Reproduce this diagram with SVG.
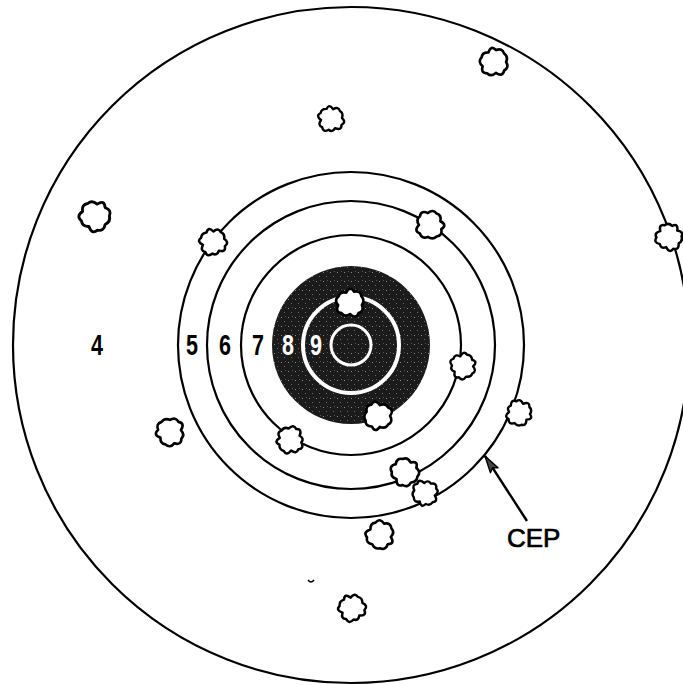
<svg xmlns="http://www.w3.org/2000/svg" width="683" height="685" viewBox="0 0 683 685">
<style>
.ring{fill:none;stroke:#000;stroke-width:2.2}
.hole{fill:#fff;stroke:#000;stroke-width:2.4;stroke-linejoin:round}
.num{font-family:"Liberation Sans Narrow","Liberation Sans",Arial,sans-serif;font-weight:bold;font-size:30px;text-anchor:middle}
.lbl{font-family:"Liberation Sans",Arial,sans-serif;font-size:26px;stroke:#000;stroke-width:0.7}
</style>
<defs>
<path id="blobA" d="M11,0 Q14.1,5.1 9.2,7.7 Q8,13.9 1.7,9.9 Q-2.4,13.8 -6,10.4 Q-12.3,10.3 -10.3,3.8 Q-15,0 -11.3,-4.1 Q-10.7,-9 -5,-8.7 Q-2.8,-15.8 1.9,-10.8 Q7.5,-13 9.2,-7.7 Q13.2,-4.8 11,0 Z"/>
<path id="blobB" d="M12,0 Q15.2,4.9 8.1,5.9 Q8.2,11.3 3.4,10.5 Q0,16 -3.7,11.4 Q-8.8,12.1 -8.1,5.9 Q-15.2,4.9 -12,0 Q-13.3,-4.3 -8.9,-6.5 Q-9.4,-12.9 -3.1,-9.5 Q0,-15 3.7,-11.4 Q8.2,-11.3 8.9,-6.5 Q15.2,-4.9 12,0 Z"/>
<pattern id="speck" width="7" height="9" patternUnits="userSpaceOnUse">
<rect width="7" height="9" fill="#1b1b1b"/>
<rect x="1" y="2" width="1" height="1" fill="#8a8a8a"/>
<rect x="4" y="6" width="1" height="1" fill="#6a6a6a"/>
<rect x="5" y="1" width="1" height="1" fill="#555"/>
</pattern>
<marker id="arr" markerWidth="20" markerHeight="12" refX="18" refY="6" orient="auto" markerUnits="userSpaceOnUse">
<path d="M1,1.5 L18,6 L1,10.5 L4,6 Z" fill="#444" stroke="#000" stroke-width="1.4" stroke-linejoin="round"/>
</marker>
</defs>
<rect width="683" height="685" fill="#fff"/>
<g id="target">
<circle class="ring" cx="351" cy="345" r="338"/>
<circle class="ring" cx="351" cy="345" r="173"/>
<circle class="ring" cx="351" cy="345" r="144"/>
<circle class="ring" cx="351" cy="345" r="110"/>
<circle cx="351" cy="345" r="79" fill="url(#speck)"/>
<circle cx="351" cy="345" r="48" fill="none" stroke="#fff" stroke-width="4"/>
<circle cx="351" cy="345" r="20" fill="none" stroke="#fff" stroke-width="3"/>
</g>
<g id="scores">
<text class="num" x="97" y="355" textLength="12" lengthAdjust="spacingAndGlyphs">4</text>
<text class="num" x="192" y="355" textLength="12" lengthAdjust="spacingAndGlyphs">5</text>
<text class="num" x="225" y="355" textLength="12" lengthAdjust="spacingAndGlyphs">6</text>
<text class="num" x="258" y="355" textLength="12" lengthAdjust="spacingAndGlyphs">7</text>
<text class="num" x="288" y="355" textLength="12" lengthAdjust="spacingAndGlyphs" fill="#fff">8</text>
<text class="num" x="316" y="355" textLength="12" lengthAdjust="spacingAndGlyphs" fill="#fff">9</text>
</g>
<g id="holes">
<use href="#blobA" class="hole" transform="translate(494,62) scale(1.1)"/>
<use href="#blobB" class="hole" transform="translate(331,119) rotate(30)"/>
<use href="#blobA" class="hole" transform="translate(95,216) rotate(40) scale(1.2)"/>
<use href="#blobB" class="hole" transform="translate(213,242) rotate(20) scale(1.05)"/>
<use href="#blobA" class="hole" transform="translate(430,225) rotate(100) scale(1.1)"/>
<use href="#blobB" class="hole" transform="translate(669,237) rotate(70) scale(1.05)"/>
<use href="#blobA" class="hole" transform="translate(350,303) rotate(10) scale(1.1)"/>
<use href="#blobB" class="hole" transform="translate(463,366) rotate(110)"/>
<use href="#blobA" class="hole" transform="translate(378,416) rotate(200) scale(1.1)"/>
<use href="#blobB" class="hole" transform="translate(519,413) rotate(150)"/>
<use href="#blobA" class="hole" transform="translate(170,432) rotate(270) scale(1.1)"/>
<use href="#blobB" class="hole" transform="translate(290,440) rotate(300) scale(1.05)"/>
<use href="#blobA" class="hole" transform="translate(405,472) rotate(60) scale(1.1)"/>
<use href="#blobB" class="hole" transform="translate(425,493) rotate(230)"/>
<use href="#blobA" class="hole" transform="translate(380,535) rotate(130) scale(1.1)"/>
<use href="#blobB" class="hole" transform="translate(352,608) rotate(10) scale(1.05)"/>
</g>
<g id="connectors">
<line x1="527" y1="521" x2="485" y2="456" stroke="#000" stroke-width="2.4" marker-end="url(#arr)"/>
</g>
<g id="cep-label">
<text class="lbl" x="507" y="547">CEP</text>
</g>
<path d="M308,580 Q311,584 314,580" fill="none" stroke="#000" stroke-width="1.5"/>
</svg>
